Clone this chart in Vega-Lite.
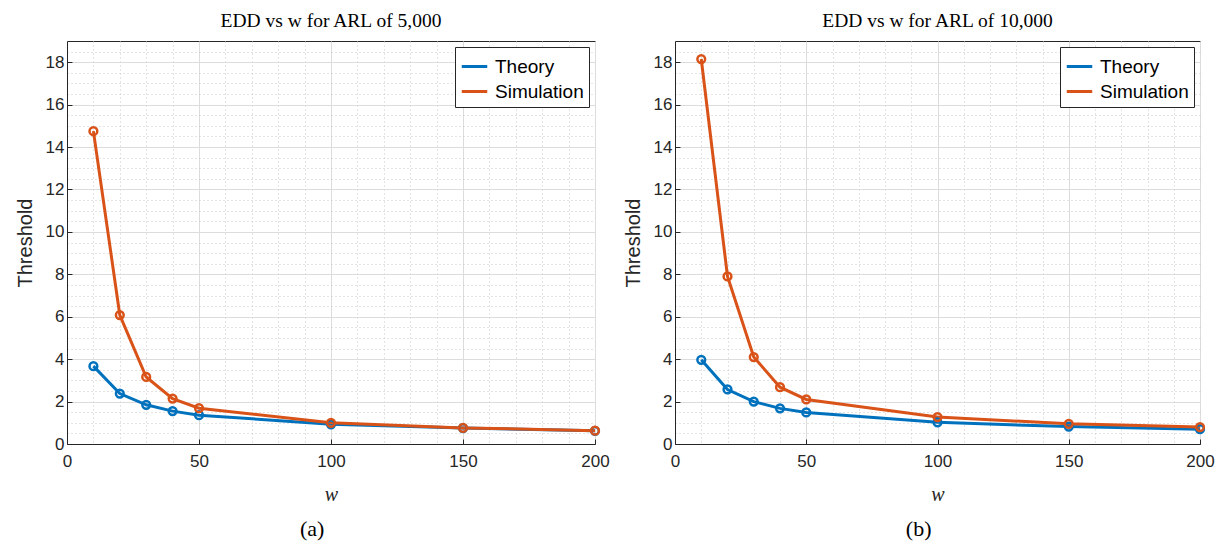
{
  "$schema": "https://vega.github.io/schema/vega-lite/v6.json",
  "padding": {"left": 14, "top": 10, "right": 5, "bottom": 5},
  "background": "white",
  "datasets": {
    "d": [
      {"panel": "a", "series": "Theory", "w": 10, "v": 3.67},
      {"panel": "a", "series": "Theory", "w": 20, "v": 2.38},
      {"panel": "a", "series": "Theory", "w": 30, "v": 1.85},
      {"panel": "a", "series": "Theory", "w": 40, "v": 1.55},
      {"panel": "a", "series": "Theory", "w": 50, "v": 1.36},
      {"panel": "a", "series": "Theory", "w": 100, "v": 0.93},
      {"panel": "a", "series": "Theory", "w": 150, "v": 0.75},
      {"panel": "a", "series": "Theory", "w": 200, "v": 0.62},
      {"panel": "a", "series": "Simulation", "w": 10, "v": 14.75},
      {"panel": "a", "series": "Simulation", "w": 20, "v": 6.08},
      {"panel": "a", "series": "Simulation", "w": 30, "v": 3.16},
      {"panel": "a", "series": "Simulation", "w": 40, "v": 2.14},
      {"panel": "a", "series": "Simulation", "w": 50, "v": 1.69},
      {"panel": "a", "series": "Simulation", "w": 100, "v": 1.0},
      {"panel": "a", "series": "Simulation", "w": 150, "v": 0.76},
      {"panel": "a", "series": "Simulation", "w": 200, "v": 0.63},
      {"panel": "b", "series": "Theory", "w": 10, "v": 3.97},
      {"panel": "b", "series": "Theory", "w": 20, "v": 2.57},
      {"panel": "b", "series": "Theory", "w": 30, "v": 2.0},
      {"panel": "b", "series": "Theory", "w": 40, "v": 1.68},
      {"panel": "b", "series": "Theory", "w": 50, "v": 1.49},
      {"panel": "b", "series": "Theory", "w": 100, "v": 1.02},
      {"panel": "b", "series": "Theory", "w": 150, "v": 0.82},
      {"panel": "b", "series": "Theory", "w": 200, "v": 0.7},
      {"panel": "b", "series": "Simulation", "w": 10, "v": 18.15},
      {"panel": "b", "series": "Simulation", "w": 20, "v": 7.9},
      {"panel": "b", "series": "Simulation", "w": 30, "v": 4.1},
      {"panel": "b", "series": "Simulation", "w": 40, "v": 2.68},
      {"panel": "b", "series": "Simulation", "w": 50, "v": 2.1},
      {"panel": "b", "series": "Simulation", "w": 100, "v": 1.27},
      {"panel": "b", "series": "Simulation", "w": 150, "v": 0.95},
      {"panel": "b", "series": "Simulation", "w": 200, "v": 0.8}
    ]
  },
  "config": {
    "view": {"stroke": "#262626", "strokeWidth": 1},
    "font": "Liberation Sans",
    "axis": {"labelFontSize": 17, "labelColor": "#262626", "labelFlush": false, "titleFontWeight": "normal", "titleColor": "#262626", "domainColor": "#262626", "tickColor": "#262626"},
    "legend": {"symbolType": "stroke", "labelFontSize": 19, "labelColor": "#000000", "symbolStrokeWidth": 3, "symbolSize": 650, "rowPadding": 0, "labelOffset": 6}
  },
  "spacing": 12,
  "resolve": {"scale": {"color": "independent"}, "legend": {"color": "independent"}},
  "hconcat": [
    {
      "title": {"text": "(a)", "orient": "bottom", "font": "Liberation Serif", "fontSize": 22, "fontWeight": "normal", "anchor": "middle", "frame": "bounds", "offset": 14, "color": "#000000"},
      "resolve": {"scale": {"color": "independent"}, "legend": {"color": "independent"}},
      "vconcat": [
        {
          "title": {"text": "EDD vs w for ARL of 5,000", "font": "Liberation Serif", "fontSize": 19.5, "fontWeight": "normal", "anchor": "middle", "offset": 10, "color": "#000000"},
          "width": 528,
          "height": 403,
          "data": {"name": "d"},
          "transform": [{"filter": "datum.panel == 'a'"}],
          "resolve": {"axis": {"x": "independent", "y": "independent"}},
          "layer": [
            {
              "mark": {"type": "line", "opacity": 0},
              "encoding": {
                "x": {"field": "w", "type": "quantitative", "scale": {"domain": [0, 200], "nice": false},
                  "axis": {"orient": "bottom", "values": [10,20,30,40,60,70,80,90,110,120,130,140,160,170,180,190], "grid": true, "gridDash": [1, 3], "gridColor": "#c8c8c8", "labels": false, "ticks": false, "domain": false, "title": null}},
                "y": {"field": "v", "type": "quantitative", "scale": {"domain": [0, 19], "nice": false},
                  "axis": {"orient": "left", "values": [0.5,1,1.5,2.5,3,3.5,4.5,5,5.5,6.5,7,7.5,8.5,9,9.5,10.5,11,11.5,12.5,13,13.5,14.5,15,15.5,16.5,17,17.5,18.5], "grid": true, "gridDash": [1, 3], "gridColor": "#c8c8c8", "labels": false, "ticks": false, "domain": false, "title": null}}
              }
            },
            {
              "mark": {"type": "line", "strokeWidth": 3},
              "encoding": {
                "x": {"field": "w", "type": "quantitative", "scale": {"domain": [0, 200], "nice": false},
                  "axis": {"orient": "bottom", "values": [0, 50, 100, 150, 200], "grid": true, "gridColor": "#dcdcdc", "tickSize": -5, "labelPadding": 14, "title": "w", "titleFont": "Liberation Serif", "titleFontStyle": "italic", "titleFontSize": 20, "titlePadding": 15}},
                "y": {"field": "v", "type": "quantitative", "scale": {"domain": [0, 19], "nice": false},
                  "axis": {"orient": "left", "values": [0,2,4,6,8,10,12,14,16,18], "grid": true, "gridColor": "#dcdcdc", "tickSize": -5, "labelPadding": 8, "title": "Threshold", "titleFontSize": 20, "titlePadding": 10}},
                "color": {"field": "series", "type": "nominal", "scale": {"domain": ["Theory", "Simulation"], "range": ["#0072BD", "#D95319"]},
                  "legend": {"orient": "top-right", "offset": 6, "title": null, "fillColor": "white", "strokeColor": "#262626", "padding": 5}}
              }
            },
            {
              "mark": {"type": "point", "filled": false, "strokeWidth": 2.5, "size": 60, "opacity": 1},
              "encoding": {
                "x": {"field": "w", "type": "quantitative", "axis": null},
                "y": {"field": "v", "type": "quantitative", "axis": null},
                "color": {"field": "series", "type": "nominal", "legend": null}
              }
            }
          ]
        }
      ]
    },
    {
      "title": {"text": "(b)", "orient": "bottom", "font": "Liberation Serif", "fontSize": 22, "fontWeight": "normal", "anchor": "middle", "frame": "bounds", "offset": 14, "color": "#000000"},
      "resolve": {"scale": {"color": "independent"}, "legend": {"color": "independent"}},
      "vconcat": [
        {
          "title": {"text": "EDD vs w for ARL of 10,000", "font": "Liberation Serif", "fontSize": 19.5, "fontWeight": "normal", "anchor": "middle", "offset": 10, "color": "#000000"},
          "width": 525,
          "height": 403,
          "data": {"name": "d"},
          "transform": [{"filter": "datum.panel == 'b'"}],
          "resolve": {"axis": {"x": "independent", "y": "independent"}},
          "layer": [
            {
              "mark": {"type": "line", "opacity": 0},
              "encoding": {
                "x": {"field": "w", "type": "quantitative", "scale": {"domain": [0, 200], "nice": false},
                  "axis": {"orient": "bottom", "values": [10,20,30,40,60,70,80,90,110,120,130,140,160,170,180,190], "grid": true, "gridDash": [1, 3], "gridColor": "#c8c8c8", "labels": false, "ticks": false, "domain": false, "title": null}},
                "y": {"field": "v", "type": "quantitative", "scale": {"domain": [0, 19], "nice": false},
                  "axis": {"orient": "left", "values": [0.5,1,1.5,2.5,3,3.5,4.5,5,5.5,6.5,7,7.5,8.5,9,9.5,10.5,11,11.5,12.5,13,13.5,14.5,15,15.5,16.5,17,17.5,18.5], "grid": true, "gridDash": [1, 3], "gridColor": "#c8c8c8", "labels": false, "ticks": false, "domain": false, "title": null}}
              }
            },
            {
              "mark": {"type": "line", "strokeWidth": 3},
              "encoding": {
                "x": {"field": "w", "type": "quantitative", "scale": {"domain": [0, 200], "nice": false},
                  "axis": {"orient": "bottom", "values": [0, 50, 100, 150, 200], "grid": true, "gridColor": "#dcdcdc", "tickSize": -5, "labelPadding": 14, "title": "w", "titleFont": "Liberation Serif", "titleFontStyle": "italic", "titleFontSize": 20, "titlePadding": 15}},
                "y": {"field": "v", "type": "quantitative", "scale": {"domain": [0, 19], "nice": false},
                  "axis": {"orient": "left", "values": [0,2,4,6,8,10,12,14,16,18], "grid": true, "gridColor": "#dcdcdc", "tickSize": -5, "labelPadding": 8, "title": "Threshold", "titleFontSize": 20, "titlePadding": 10}},
                "color": {"field": "series", "type": "nominal", "scale": {"domain": ["Theory", "Simulation"], "range": ["#0072BD", "#D95319"]},
                  "legend": {"orient": "top-right", "offset": 6, "title": null, "fillColor": "white", "strokeColor": "#262626", "padding": 5}}
              }
            },
            {
              "mark": {"type": "point", "filled": false, "strokeWidth": 2.5, "size": 60, "opacity": 1},
              "encoding": {
                "x": {"field": "w", "type": "quantitative", "axis": null},
                "y": {"field": "v", "type": "quantitative", "axis": null},
                "color": {"field": "series", "type": "nominal", "legend": null}
              }
            }
          ]
        }
      ]
    }
  ]
}
